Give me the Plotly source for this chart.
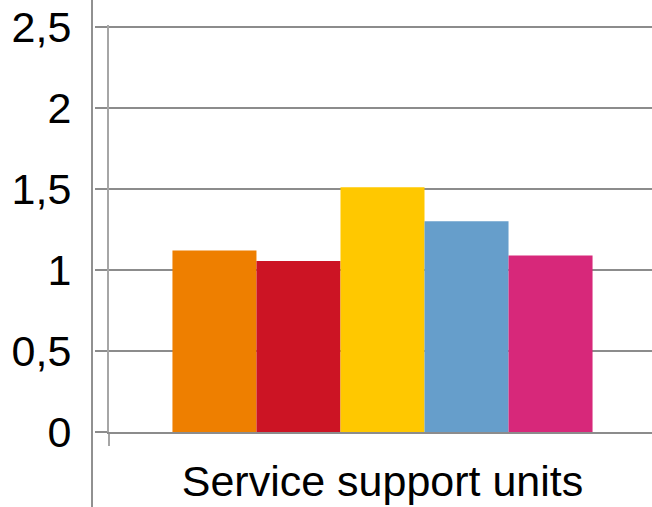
import plotly.graph_objects as go

category = ["Service support units"]
series_names = ["Series 1", "Series 2", "Series 3", "Series 4", "Series 5"]
series_values = [1.12, 1.055, 1.51, 1.30, 1.09]
colors = ["#EE7F00", "#CC1424", "#FFC800", "#669ECB", "#D7287A"]
y_ticks = [0, 0.5, 1, 1.5, 2, 2.5]

fig = go.Figure()
for name, v, c in zip(series_names, series_values, colors):
    fig.add_trace(go.Bar(x=category, y=[v], name=name, marker=dict(color=c, line=dict(width=0))))

W, H = 656, 507
ml, mr, mt, mb = 109, 0, 25, 75
pw, ph = W - ml - mr, H - mt - mb

fig.update_layout(
    width=W, height=H,
    margin=dict(l=ml, r=mr, t=mt, b=mb, pad=0),
    paper_bgcolor="white", plot_bgcolor="white",
    barmode="group", bargap=0.232, bargroupgap=0,
    showlegend=False,
    separators=",.",
    font=dict(family="Liberation Sans, Arial, sans-serif", size=43, color="black"),
    xaxis=dict(type="category", tickson="boundaries", ticks="outside", ticklen=12,
               tickcolor="#a6a6a6", tickwidth=2, showline=True, linecolor="#8c8c8c",
               linewidth=2, showgrid=False, ticklabelstandoff=10,
               tickfont=dict(size=43, color="black")),
    yaxis=dict(range=[0, 2.512], tickvals=y_ticks, ticks="outside", ticklen=12,
               tickcolor="#8c8c8c", tickwidth=2, showline=True, linecolor="#a6a6a6",
               linewidth=2, gridcolor="#8c8c8c", gridwidth=2, zeroline=False,
               ticklabelstandoff=15, tickfont=dict(size=43, color="black")),
)

fig.add_shape(type="line", xref="paper", yref="paper",
              x0=(92 - ml) / pw, x1=(92 - ml) / pw,
              y0=-mb / ph, y1=1 + mt / ph,
              line=dict(color="#222222", width=1))

fig.write_html(
    "out.html",
    config={"displayModeBar": False},
    post_script="document.body.style.margin='0';document.body.style.padding='0';"
                "document.body.style.overflow='hidden';document.documentElement.style.overflow='hidden';",
)
